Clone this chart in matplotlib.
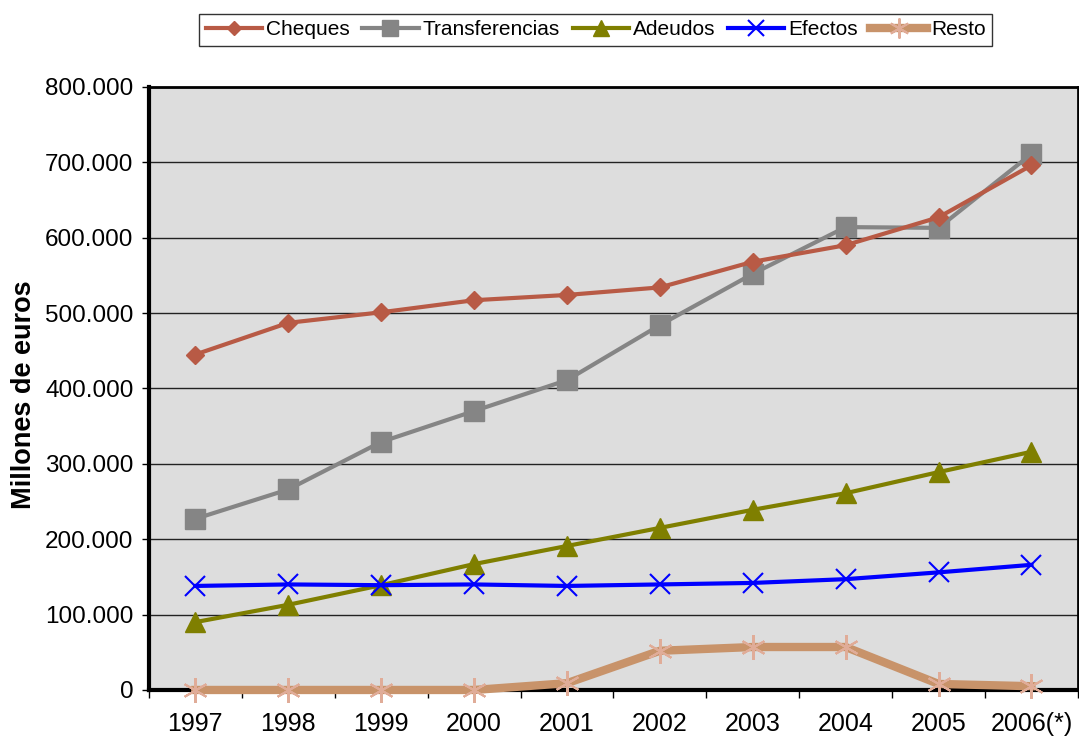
import matplotlib.pyplot as plt
import matplotlib.ticker as mticker
import numpy as np

years = ["1997", "1998", "1999", "2000", "2001", "2002", "2003", "2004", "2005", "2006(*)"]
cheques = [445000, 487000, 501000, 517000, 524000, 534000, 568000, 590000, 627000, 696000]
transferencias = [227000, 266000, 329000, 370000, 411000, 484000, 552000, 614000, 613000, 711000]
adeudos = [90000, 113000, 139000, 167000, 191000, 215000, 239000, 261000, 289000, 316000]
efectos = [138000, 140000, 139000, 140000, 138000, 140000, 142000, 147000, 156000, 166000]
resto = [0, 0, 0, 0, 9000, 52000, 57000, 57000, 8000, 5000]

plt.rcParams['font.family'] = ['Liberation Sans', 'DejaVu Sans']

fig = plt.figure(figsize=(10.79, 7.4), dpi=100)
ax = fig.add_axes([0.138, 0.0676, 0.861, 0.815])
ax.set_facecolor('#DDDDDD')

x = np.arange(len(years))
ax.plot(x, cheques, color='#B85A45', lw=3, marker='D', ms=9, label='Cheques', zorder=5)
ax.plot(x, transferencias, color='#858585', lw=3, marker='s', ms=14, label='Transferencias', zorder=4)
ax.plot(x, adeudos, color='#7F7F00', lw=3, marker='^', ms=14, label='Adeudos', zorder=4)
ax.plot(x, efectos, color='#0000FF', lw=3, marker='x', ms=15, mew=1.5, label='Efectos', zorder=4)
ax.plot(x, resto, color='#C8936A', lw=6, marker=(6, 2, 0), ms=18, mew=1.5,
        mec='#E0AC98', label='Resto', zorder=6, clip_on=False)

ax.set_xlim(-0.5, len(years) - 0.5)
ax.set_ylim(0, 800000)
ax.yaxis.set_major_locator(mticker.MultipleLocator(100000))
ax.yaxis.set_major_formatter(mticker.FuncFormatter(lambda v, p: f"{int(v):,}".replace(",", ".")))
ax.grid(axis='y', color='#222222', lw=1)
ax.set_axisbelow(True)

ax.set_xticks(x)
ax.set_xticklabels(years)
ax.set_xticks(np.arange(len(years) + 1) - 0.5, minor=True)
ax.tick_params(axis='x', which='major', length=0, pad=16, labelsize=18)
ax.tick_params(axis='x', which='minor', length=6, width=1)
ax.tick_params(axis='y', length=5, width=1, labelsize=17.5, pad=6)

for s in ['left', 'bottom']:
    ax.spines[s].set_linewidth(3)
for s in ['top', 'right']:
    ax.spines[s].set_linewidth(2)

ax.set_ylabel('Millones de euros', fontsize=19.5, fontweight='bold')
ax.yaxis.set_label_coords(-0.12, 0.49)

leg = fig.legend(loc='upper center', bbox_to_anchor=(0.552, 0.995), ncol=5, fontsize=15,
                 frameon=True, fancybox=False, edgecolor='black', handlelength=2.7,
                 columnspacing=0.6, handletextpad=0.2, borderpad=0.3, markerscale=0.8)
leg.get_frame().set_linewidth(1)

fig.savefig('out.png', dpi=100)
